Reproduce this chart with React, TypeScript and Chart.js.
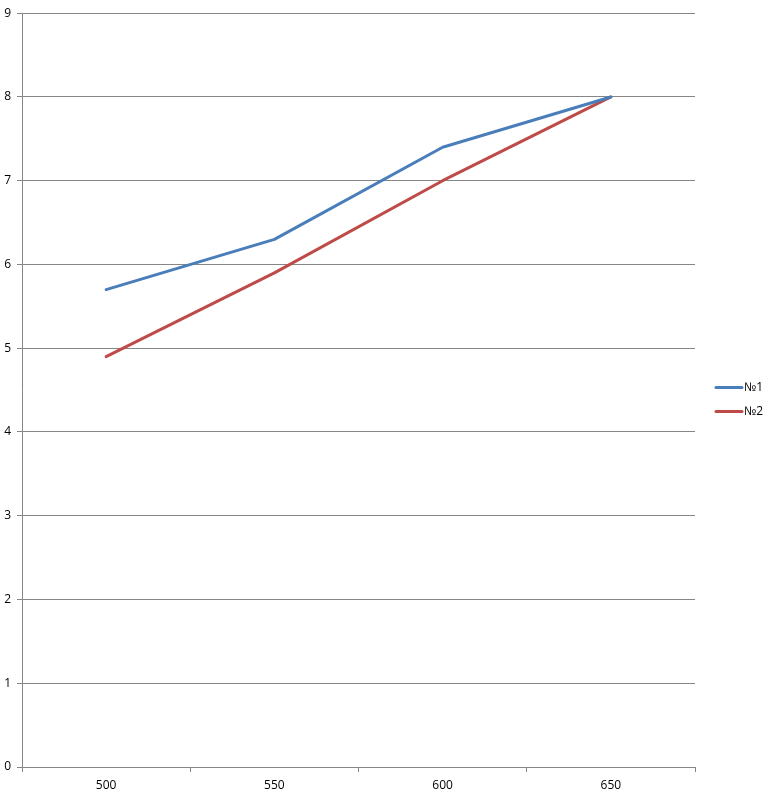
import React, { useEffect, useRef } from "react";
import { Chart, registerables } from "chart.js";

Chart.register(...registerables);

const categories = ["500", "550", "600", "650"];
const series1Label = "№1";
const series1 = [5.7, 6.3, 7.4, 8.0];
const series2Label = "№2";
const series2 = [4.9, 5.9, 7.0, 8.0];
const yMin = 0;
const yMax = 9;

const FONT = "'Open Sans', 'Liberation Sans', sans-serif";
const GRID = "#868686";

const legendPlugin = {
  id: "sideLegend",
  afterDraw(chart: any) {
    const ctx = chart.ctx;
    const area = chart.chartArea;
    const ds = chart.data.datasets;
    const cy = chart.height / 2 + 1.5;
    const gap = 24;
    const startY = cy - ((ds.length - 1) * gap) / 2;
    ctx.save();
    ds.forEach((d: any, i: number) => {
      const y = Math.round(startY + i * gap) + 0.5;
      const x0 = area.right + 21;
      ctx.strokeStyle = d.borderColor;
      ctx.lineWidth = 3;
      ctx.lineCap = "round";
      ctx.beginPath();
      ctx.moveTo(x0, y);
      ctx.lineTo(x0 + 26, y);
      ctx.stroke();
      ctx.fillStyle = "#000";
      ctx.font = `12px ${FONT}`;
      ctx.textAlign = "left";
      ctx.textBaseline = "middle";
      ctx.fillText(d.label, x0 + 28, y);
    });
    ctx.restore();
  },
};

export default function App() {
  const ref = useRef<HTMLCanvasElement>(null);
  useEffect(() => {
    if (!ref.current) return;
    const chart = new Chart(ref.current, {
      type: "line",
      data: {
        labels: categories,
        datasets: [
          {
            label: series1Label,
            data: series1,
            borderColor: "#4A7EBB",
            backgroundColor: "#4A7EBB",
            borderWidth: 3,
            pointRadius: 0,
            tension: 0,
            borderCapStyle: "round",
            borderJoinStyle: "round",
          },
          {
            label: series2Label,
            data: series2,
            borderColor: "#BE4B48",
            backgroundColor: "#BE4B48",
            borderWidth: 3,
            pointRadius: 0,
            tension: 0,
            borderCapStyle: "round",
            borderJoinStyle: "round",
          },
        ],
      },
      options: {
        responsive: false,
        animation: false,
        devicePixelRatio: 1,
        layout: { padding: { top: 13, right: 78, left: 0, bottom: 0 } },
        plugins: {
          legend: { display: false },
          tooltip: { enabled: false },
        },
        scales: {
          x: {
            offset: true,
            grid: {
              offset: true,
              display: true,
              drawOnChartArea: false,
              drawTicks: true,
              tickLength: 5,
              color: GRID,
            },
            border: { display: true, color: GRID },
            ticks: {
              color: "#000",
              font: { family: FONT, size: 12 },
              padding: 6,
              maxRotation: 0,
            },
            afterFit(scale: any) {
              scale.height = 28;
            },
          },
          y: {
            min: yMin,
            max: yMax,
            grid: {
              color: GRID,
              tickLength: 5,
              drawTicks: true,
            },
            border: { display: true, color: GRID },
            ticks: {
              stepSize: 1,
              color: "#000",
              font: { family: FONT, size: 12 },
              padding: 6,
            },
            afterFit(scale: any) {
              scale.width = 22;
            },
          },
        },
      },
      plugins: [legendPlugin],
    });
    return () => chart.destroy();
  }, []);
  return (
    <div style={{ position: "absolute", left: 0, top: 0, width: 773, height: 795, background: "#fff" }}>
      <canvas ref={ref} width={773} height={795} style={{ display: "block" }} />
    </div>
  );
}
